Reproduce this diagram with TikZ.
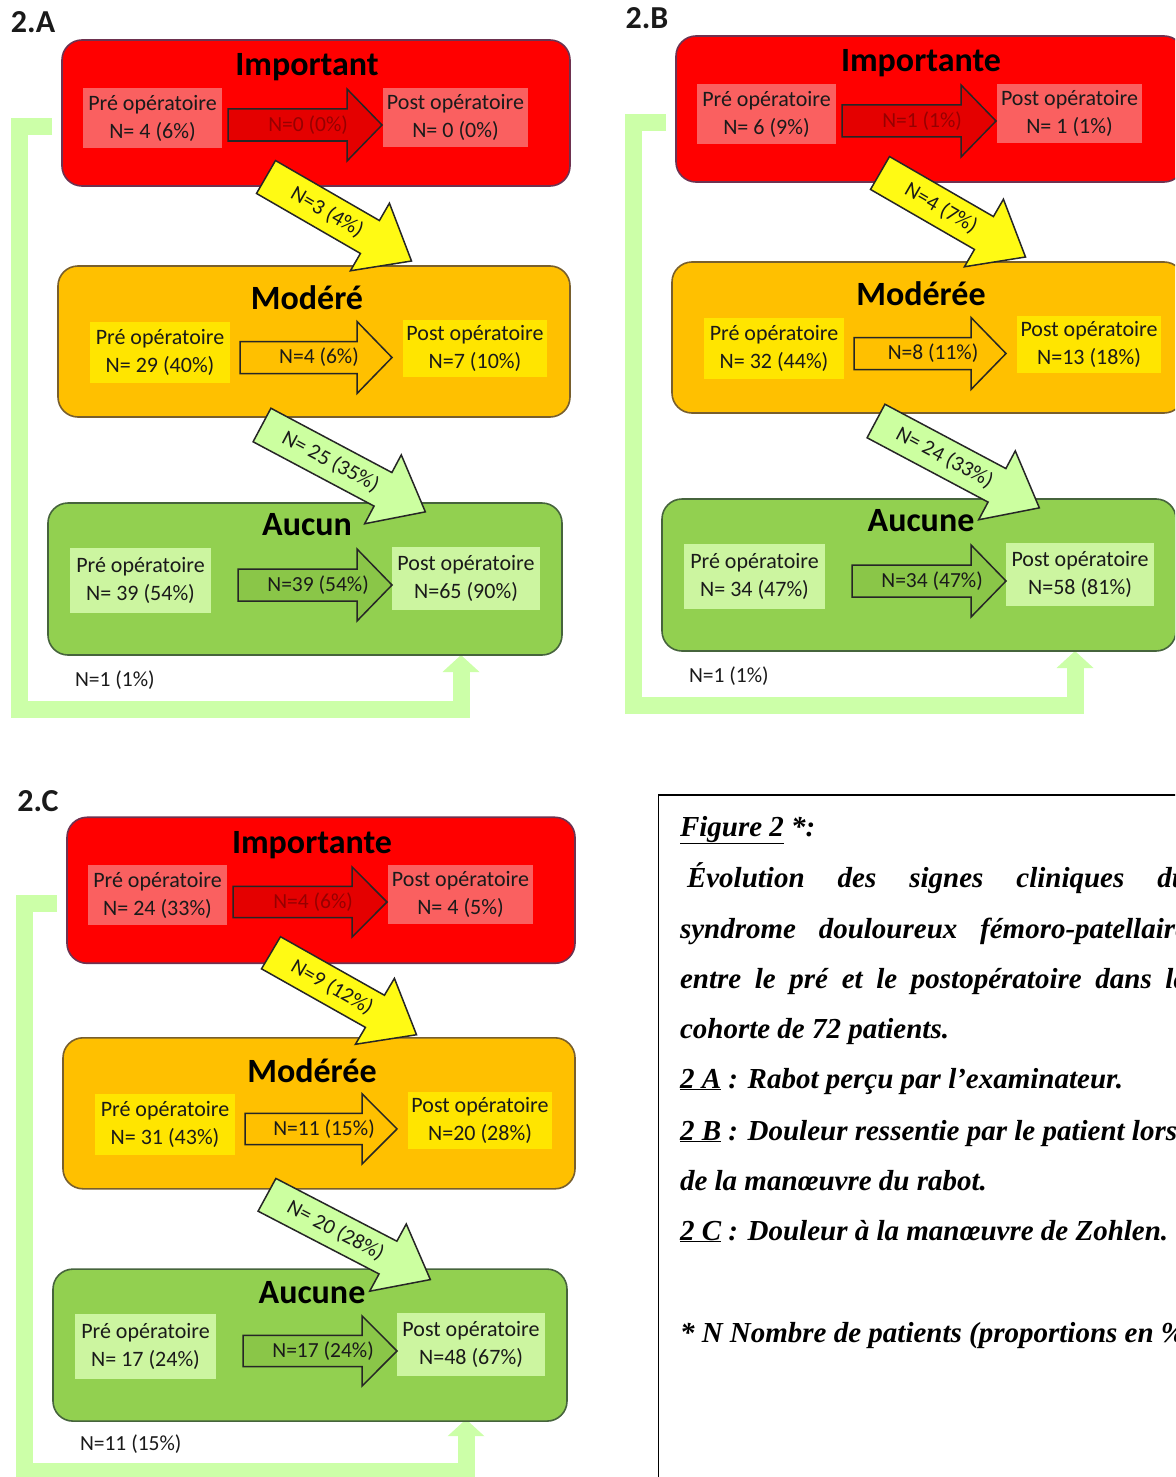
\documentclass[tikz,border=0pt]{standalone}
\usepackage{fontspec}
\setmainfont{Carlito}
\newfontfamily\capfont{Liberation Serif}
\usetikzlibrary{arrows.meta}
\definecolor{redbox}{RGB}{255,0,0}
\definecolor{redlight}{RGB}{250,96,96}
\definecolor{redarrow}{RGB}{228,0,0}
\definecolor{redarrowtxt}{RGB}{150,0,0}
\definecolor{redborder}{RGB}{110,50,80}
\definecolor{orangebox}{RGB}{255,192,0}
\definecolor{orangelight}{RGB}{255,229,0}
\definecolor{orangeborder}{RGB}{120,95,45}
\definecolor{greenbox}{RGB}{146,208,80}
\definecolor{greenlight}{RGB}{204,245,160}
\definecolor{greenarrow}{RGB}{138,198,72}
\definecolor{greenborder}{RGB}{70,100,60}
\definecolor{diagyellow}{RGB}{255,250,20}
\definecolor{diaggreen}{RGB}{204,255,160}
\definecolor{loopgreen}{RGB}{204,255,168}
\definecolor{txt}{RGB}{26,26,26}

\newcommand\harrow[6]{% name, tail, length, fill, text colour, text
  \begin{scope}[shift={#2}]
    \draw[blockline, fill=#4] (0,-16) -- ({#3-35},-16) -- ({#3-35},-36) -- (#3,0)
      -- ({#3-35},36) -- ({#3-35},16) -- (0,16) -- cycle;
    \node[smalltxt, text=#5] (#1) at ({0.52*#3},0) {#6};
  \end{scope}}

\newcommand\darrow[6]{% name, tail, angle, length, fill, text
  \begin{scope}[shift={#2}, rotate=#3]
    \draw[blockline, fill=#5] (0,-19) -- ({#4-48},-19) -- ({#4-48},-39) -- (#4,0)
      -- ({#4-48},39) -- ({#4-48},19) -- (0,19) -- cycle;
    \node[smalltxt, transform shape] (#1) at ({0.42*#4},0) {#6};
  \end{scope}}

\newcommand\panel[2]{%
  \begin{scope}[#2, name prefix=#1-]
    \coordinate (ls) at (52,127);
    \coordinate (lc1) at (19,127);
    \coordinate (lc2) at (19,709);
    \coordinate (lc3) at (461,709);
    \coordinate (le) at (461,655);
    \draw[loopline] (ls) -- (lc1) -- (lc2) -- (lc3) -- (le);
    \node[smalltxt, anchor=west] (loop) at (75,680) {\pLoop};
    \node[lbl] (label) at (33,22) {\pLabel};
    \node[bigbox, draw=redborder, fill=redbox, minimum width=508, minimum height=146] (high) at (316,113) {};
    \node[bigbox, draw=orangeborder, fill=orangebox, minimum width=512, minimum height=151] (mid) at (314,341.5) {};
    \node[bigbox, draw=greenborder, fill=greenbox, minimum width=514, minimum height=152] (low) at (305,579) {};
    \node[ttl] (t1) at (307,67) {\pTi};
    \node[ttl] (t2) at (307,298) {\pTii};
    \node[ttl] (t3) at (307,525) {\pTiii};
    \node[pbox, fill=redlight, minimum width=139, minimum height=60] (pre1) at (152.5,118) {Pré opératoire\\\pPrei};
    \node[pbox, fill=redlight, minimum width=145, minimum height=59] (post1) at (455.5,117.5) {Post opératoire\\\pPosti};
    \node[pbox, fill=orangelight, minimum width=140, minimum height=61] (pre2) at (160,352.5) {Pré opératoire\\\pPreii};
    \node[pbox, fill=orangelight, minimum width=144, minimum height=57] (post2) at (475,348.5) {Post opératoire\\\pPostii};
    \node[pbox, fill=greenlight, minimum width=141, minimum height=65] (pre3) at (140.5,580.5) {Pré opératoire\\\pPreiii};
    \node[pbox, fill=greenlight, minimum width=148, minimum height=63] (post3) at (466,578.5) {Post opératoire\\\pPostiii};
    \harrow{a1}{(228,125)}{154}{redarrow}{redarrowtxt}{\pArri}
    \harrow{a2}{(240,357.5)}{152}{orangebox}{txt}{\pArrii}
    \harrow{a3}{(238,585)}{154}{greenarrow}{txt}{\pArriii}
    \darrow{d1}{(266,177)}{-30}{168}{diagyellow}{\pDi}
    \darrow{d2}{(262,425)}{-28}{185}{diaggreen}{\pDii}
  \end{scope}}

\begin{document}
\begin{tikzpicture}[x=1pt,y=-1pt,
  every node/.style={inner sep=0pt,outer sep=0pt},
  smalltxt/.style={font=\fontsize{21.5}{27}\selectfont, text=txt},
  pbox/.style={font=\fontsize{22}{28}\selectfont, text=txt, align=center},
  ttl/.style={font=\fontsize{34}{40}\selectfont\bfseries, text=black},
  lbl/.style={font=\fontsize{32}{38}\selectfont\bfseries, text=txt},
  bigbox/.style={line width=1.6, rounded corners=20},
  blockline/.style={draw=black!85, line width=1.5, line join=miter},
  loopline/.style={draw=loopgreen, line width=17, line join=miter, -{Triangle[width=36pt,length=17pt]}},
  captxt/.style={font=\capfont\bfseries\itshape\fontsize{29}{35}\selectfont, text=black, anchor=base west}]
\useasboundingbox (0,0) rectangle (1175,1477);
\fill[white] (0,0) rectangle (1175,1477);
\clip (0,0) rectangle (1175,1477);

% Panel 2.A
\def\pLabel{2.A}\def\pTi{Important}\def\pTii{Modéré}\def\pTiii{Aucun}
\def\pPrei{N= 4 (6\%)}\def\pArri{N=0 (0\%)}\def\pPosti{N= 0 (0\%)}
\def\pPreii{N= 29 (40\%)}\def\pArrii{N=4 (6\%)}\def\pPostii{N=7 (10\%)}
\def\pPreiii{N= 39 (54\%)}\def\pArriii{N=39 (54\%)}\def\pPostiii{N=65 (90\%)}
\def\pDi{N=3 (4\%)}\def\pDii{N= 25 (35\%)}\def\pLoop{N=1 (1\%)}
\panel{A}{shift={(0,0)}}

% Panel 2.B
\def\pLabel{2.B}\def\pTi{Importante}\def\pTii{Modérée}\def\pTiii{Aucune}
\def\pPrei{N= 6 (9\%)}\def\pArri{N=1 (1\%)}\def\pPosti{N= 1 (1\%)}
\def\pPreii{N= 32 (44\%)}\def\pArrii{N=8 (11\%)}\def\pPostii{N=13 (18\%)}
\def\pPreiii{N= 34 (47\%)}\def\pArriii{N=34 (47\%)}\def\pPostiii{N=58 (81\%)}
\def\pDi{N=4 (7\%)}\def\pDii{N= 24 (33\%)}\def\pLoop{N=1 (1\%)}
\panel{B}{shift={(614,-4)}}

% Panel 2.C
\def\pLabel{2.C}\def\pTi{Importante}\def\pTii{Modérée}\def\pTiii{Aucune}
\def\pPrei{N= 24 (33\%)}\def\pArri{N=4 (6\%)}\def\pPosti{N= 4 (5\%)}
\def\pPreii{N= 31 (43\%)}\def\pArrii{N=11 (15\%)}\def\pPostii{N=20 (28\%)}
\def\pPreiii{N= 17 (24\%)}\def\pArriii{N=17 (24\%)}\def\pPostiii{N=48 (67\%)}
\def\pDi{N=9 (12\%)}\def\pDii{N= 20 (28\%)}\def\pLoop{N=11 (15\%)}
\panel{C}{shift={(5,780)}, yscale=0.976}

% Caption
\draw[line width=1.5] (658.5,795) rectangle (1300,1600);
\node[captxt] (cap0) at (680,836) {\underline{Figure 2} *:};
\node[captxt] (cap1) at (687,887) {\hbox to 501pt{Évolution\hfill des\hfill signes\hfill cliniques\hfill du}};
\node[captxt] (cap2) at (680,938) {\hbox to 508pt{syndrome\hfill douloureux\hfill fémoro-patellaire}};
\node[captxt] (cap3) at (680,988) {\hbox to 508pt{entre\hfill le\hfill pré\hfill et\hfill le\hfill postopératoire\hfill dans\hfill la}};
\node[captxt] (cap4) at (680,1038) {cohorte de 72 patients.};
\node[captxt] (cap5) at (680,1088) {\underline{2 A} : Rabot perçu par l’examinateur.};
\node[captxt] (cap6) at (680,1140) {\underline{2 B} : Douleur ressentie par le patient lors};
\node[captxt] (cap7) at (680,1190) {de la manœuvre du rabot.};
\node[captxt] (cap8) at (680,1240) {\underline{2 C} : Douleur à la manœuvre de Zohlen.};
\node[captxt] (cap9) at (680,1342) {* N Nombre de patients (proportions en \%)};
\end{tikzpicture}
\end{document}
